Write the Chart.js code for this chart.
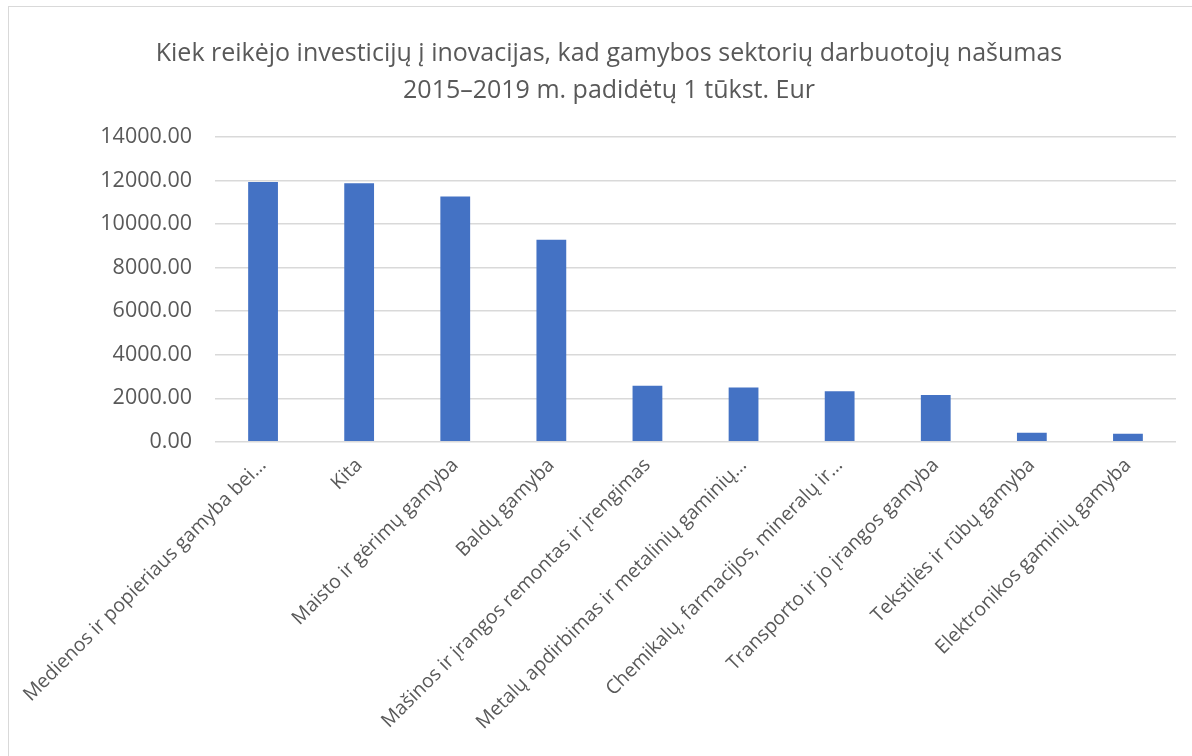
<!DOCTYPE html>
<html>
<head>
<meta charset="utf-8">
<script src="https://cdn.jsdelivr.net/npm/chart.js@4/dist/chart.umd.min.js"></script>
<style>
html,body{margin:0;padding:0;background:#fff;}
#wrap{position:absolute;left:8px;top:6px;width:1200px;height:760px;border:1px solid #d9d9d9;box-sizing:border-box;}
#c{position:absolute;left:0;top:0;}
</style>
</head>
<body>
<div id="wrap"></div>
<canvas id="c" width="1192" height="756"></canvas>
<script>
const categories = [
  "Medienos ir popieriaus gamyba bei…",
  "Kita",
  "Maisto ir gėrimų gamyba",
  "Baldų gamyba",
  "Mašinos ir įrangos remontas ir įrengimas",
  "Metalų apdirbimas ir metalinių gaminių…",
  "Chemikalų, farmacijos, mineralų ir…",
  "Transporto ir jo įrangos gamyba",
  "Tekstilės ir rūbų gamyba",
  "Elektronikos gaminių gamyba"
];
const values = [11930, 11880, 11270, 9280, 2580, 2500, 2320, 2150, 420, 375];
const titleLines = [
  "Kiek reikėjo investicijų į inovacijas, kad gamybos sektorių darbuotojų našumas",
  "2015–2019 m. padidėtų 1 tūkst. Eur"
];
const yMax = 14000;
const yStep = 2000;

const fontFamily = "'Open Sans', 'Noto Sans', sans-serif";
new Chart(document.getElementById('c'), {
  type: 'bar',
  data: {
    labels: categories,
    datasets: [{
      data: values,
      backgroundColor: '#4472c4',
      borderWidth: 0,
      categoryPercentage: 1.0,
      barPercentage: 0.31
    }]
  },
  options: {
    responsive: false,
    animation: false,
    layout: { padding: { left: 42, right: 16, top: 35, bottom: 10 } },
    plugins: {
      legend: { display: false },
      tooltip: { enabled: false },
      title: {
        display: true,
        text: titleLines,
        color: '#595959',
        font: { family: fontFamily, size: 25, weight: 'normal', lineHeight: 1.5 },
        padding: { top: 0, bottom: 27 }
      }
    },
    scales: {
      x: {
        grid: { display: false, drawTicks: false },
        border: { display: false },
        ticks: {
          color: '#595959',
          font: { family: fontFamily, size: 19.5 },
          maxRotation: 45,
          minRotation: 45,
          autoSkip: false,
          padding: 12
        }
      },
      y: {
        min: 0,
        max: yMax,
        afterFit: s => { s.width = 173; },
        grid: { color: '#d9d9d9', lineWidth: 1.5, drawTicks: false },
        border: { display: false },
        ticks: {
          stepSize: yStep,
          color: '#595959',
          font: { family: fontFamily, size: 21.5 },
          padding: 23,
          callback: v => Number(v).toFixed(2)
        }
      }
    }
  }
});
</script>
</body>
</html>
